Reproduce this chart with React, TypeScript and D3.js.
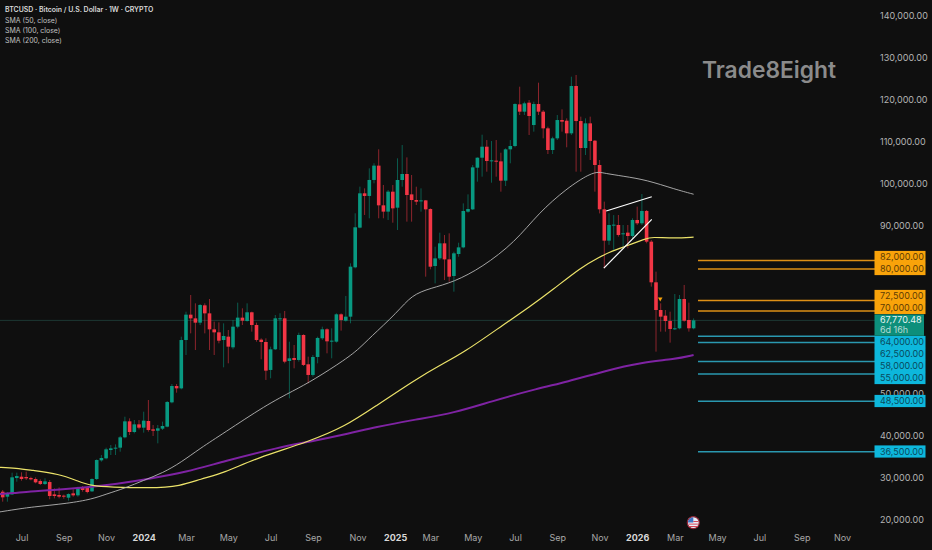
import { useEffect, useRef } from 'react';
import * as d3 from 'd3';

// Weekly BTCUSD candles, prices in thousands of USD
const opens = [26.98,25.79,26.34,30.23,30.55,30.47,30.23,30.0,29.52,28.81,29.28,26.34,26.19,26.03,25.55,26.58,26.11,28.01,27.85,27.06,30.0,34.44,34.92,36.9,37.3,37.46,39.92,43.73,41.19,43.01,42.22,43.81,41.82,41.5,41.98,42.46,48.25,52.14,51.58,63.09,69.13,68.25,67.22,71.35,69.44,65.63,64.92,63.09,63.89,61.35,66.27,68.42,67.62,69.69,66.67,63.18,62.62,55.96,60.88,68.18,68.26,58.1,58.81,58.34,64.29,57.31,54.77,59.05,63.5,65.64,62.7,62.7,69.21,67.7,68.65,80.4,89.85,98.02,97.39,101.2,104.61,95.16,93.66,98.41,94.6,101.19,102.62,97.77,96.42,96.19,96.34,94.28,80.71,82.53,86.11,82.29,78.33,83.57,85.15,93.65,94.2,104.12,106.5,109.12,105.79,105.79,105.63,101.03,108.49,109.28,119.2,117.46,119.6,114.28,119.28,117.46,113.49,108.33,111.11,115.47,115.31,112.3,123.57,115.23,108.81,114.68,110.55,104.76,94.21,86.75,90.48,90.48,88.26,88.66,87.86,91.67,90.88,93.82,86.51,76.83,70.24,68.89,67.62,65.64,65.88,72.86,67.86,65.88];
const highs = [27.38,26.9,31.51,31.51,31.59,31.74,30.55,30.39,29.92,30.16,29.76,27.77,28.01,26.27,26.58,27.54,28.17,28.33,28.33,30.16,34.68,35.71,37.46,38.09,38.25,40.23,44.84,44.44,44.05,44.05,46.03,48.81,42.85,42.85,43.65,48.57,52.62,52.62,63.89,69.84,73.81,71.82,71.67,71.82,72.86,67.46,67.3,67.06,65.48,67.86,71.99,70.64,71.83,69.85,67.23,63.5,63.5,61.51,69.05,69.45,70.0,62.7,61.91,64.84,64.45,59.13,59.53,63.89,66.27,65.88,65.88,69.45,69.45,73.58,81.35,93.26,99.61,99.21,103.97,105.17,108.5,100.01,98.82,100.0,106.35,109.52,106.58,102.38,99.6,99.2,96.42,94.44,85.31,88.65,88.09,88.49,84.12,86.26,95.63,97.77,104.76,106.58,111.98,110.71,110.47,110.71,107.69,108.73,110.71,119.44,123.41,119.84,120.24,119.84,124.36,117.86,113.89,111.5,116.66,118.01,115.87,125.79,126.19,116.27,115.87,116.27,110.71,105.95,96.04,93.26,92.84,92.86,90.48,90.48,92.07,94.85,97.86,94.05,86.91,79.37,71.83,70.24,69.84,74.05,73.81,76.2,71.99,68.24];
const lows = [24.6,24.6,26.19,29.36,29.6,29.76,29.68,28.97,28.57,28.57,25.16,25.39,25.39,25.31,24.84,25.79,25.79,26.98,26.58,26.9,29.76,34.12,34.68,35.71,35.71,36.5,39.68,40.47,40.87,41.82,41.03,41.27,40.23,38.49,41.66,42.3,48.01,50.55,51.35,59.52,64.68,60.71,66.67,64.68,60.71,59.52,62.3,56.59,57.54,60.88,65.88,66.67,67.46,65.08,62.7,58.5,53.58,53.97,60.72,60.72,57.54,49.21,56.35,57.94,56.91,52.78,54.37,57.54,63.1,59.92,58.73,62.46,65.32,67.46,67.07,80.16,89.69,92.86,92.07,100.4,92.07,92.07,91.67,91.03,89.28,99.6,91.27,91.27,95.23,93.65,78.17,79.92,76.58,82.14,77.38,76.98,74.6,82.93,84.92,93.41,94.04,100.79,101.98,103.17,100.55,101.98,98.41,99.76,105.16,108.97,116.66,116.66,111.9,112.7,116.66,111.11,107.38,107.38,110.71,112.7,108.97,111.9,103.17,103.17,107.14,105.95,98.41,93.24,80.16,85.74,84.54,87.7,85.32,84.93,87.31,90.48,90.48,86.12,75.8,60.32,65.08,65.08,62.46,65.48,65.64,67.46,65.08,65.64];
const closes = [25.63,26.58,30.4,30.71,30.0,30.16,29.92,29.2,28.81,29.44,25.95,25.95,25.79,25.79,26.42,26.11,27.85,27.38,26.9,30.0,34.52,35.0,37.06,37.3,37.46,39.92,43.73,41.19,43.01,42.22,43.89,41.66,41.5,42.06,42.62,48.33,52.14,51.58,63.09,69.13,68.25,67.22,71.43,69.44,65.63,64.92,62.93,64.05,61.51,66.27,68.42,67.7,69.69,66.67,63.1,62.62,55.8,60.88,68.26,68.26,57.94,58.73,58.34,64.29,57.15,54.77,59.05,63.58,65.64,62.78,62.94,69.21,67.86,68.65,80.56,89.93,98.02,97.39,101.2,104.61,95.16,93.66,98.42,94.44,101.19,102.62,97.62,96.42,96.03,96.34,94.2,80.55,82.53,86.11,82.29,78.17,83.73,85.15,93.81,94.28,104.2,106.5,109.12,105.71,105.87,105.63,101.03,108.49,109.28,119.28,117.46,119.44,116.43,119.28,117.46,113.49,108.33,111.11,115.47,115.08,112.3,123.57,115.23,108.81,114.68,110.47,104.76,94.21,86.75,90.48,90.56,88.1,88.5,87.86,91.67,90.88,93.82,86.51,76.83,70.24,68.65,67.62,65.72,65.88,72.86,67.7,65.88,67.77];

// Moving averages, sampled at the weeks where they could be read
const sma50Weeks = [-1,3,6,14,19,22,26,30,34,38,42,47,56,62,66,73,76,78,84,87,91,96,102,109,114,120,125,127,128,132,137,143,147];
const sma50Values = [22.1,22.8,23.3,24.2,25.2,26.4,27.8,29.7,31.4,34.0,37.3,40.9,47.6,51.1,53.5,58.5,61.2,63.5,69.7,73.8,75.4,76.9,80.4,86.4,93.3,99.2,102.8,103.1,102.8,102.1,101.2,99.0,97.8];
const sma100Weeks = [-1,3,6,12,16,19,23,31,38,42,47,54,65,73,79,88,93,98,107,112,117,123,127,129,132,137,138,143,147];
const sma100Values = [32.8,32.6,32.1,31.2,29.5,28.3,28.1,27.8,28.3,30.0,31.4,35.0,38.8,42.6,47.1,53.8,57.1,60.0,67.1,70.9,75.0,80.4,82.8,84.0,85.2,87.3,87.6,87.3,87.6];
const sma200Weeks = [-1,2,6,10,19,24,31,39,47,59,65,74,79,88,96,104,114,120,128,136,143,147];
const sma200Values = [26.4,26.6,27.1,27.3,28.1,28.8,30.0,31.6,34.2,37.6,38.8,40.9,42.3,44.2,45.7,48.5,51.6,53.1,55.7,57.8,58.5,59.5];

const resistanceLevels = [82, 80, 72.5, 70];
const resistanceLabelY = [257, 269, 296, 308];
const supportLevels = [64, 62.5, 58, 55, 48.5, 36.5];
const supportLabelY = [342, 354, 366, 378, 401, 451.5];
const lastPrice = 67.77048;

// 80k, 70k and 60k sit fully behind the price tags in the picture
const priceTicks = [140, 130, 120, 110, 100, 90, 50, 40, 30, 20];
const timeTickWeeks = [4, 13, 22, 30, 39, 48, 57, 66, 75.5, 83.5, 91, 100, 109, 118, 127, 135, 143, 152, 161, 170, 178.6];
const timeTickLabels = ['Jul', 'Sep', 'Nov', '2024', 'Mar', 'May', 'Jul', 'Sep', 'Nov', '2025', 'Mar', 'May', 'Jul', 'Sep', 'Nov', '2026', 'Mar', 'May', 'Jul', 'Sep', 'Nov'];

// Hand-drawn wedge over the Nov 2025 - Jan 2026 range: [week, price]
const wedgeTop = [[128.4, 93.8], [138.1, 97.2]];
const wedgeBottom = [[127.9, 80.2], [138.1, 91.8]];

const legendLines = ['SMA (50, close)', 'SMA (100, close)', 'SMA (200, close)'];

const GREEN = '#089981';
const RED = '#f23645';
const ORANGE = '#f9a30a';
const CYAN = '#0db7dc';
const FONT = 'Inter, sans-serif';

export default function App() {
  const svgRef = useRef<SVGSVGElement>(null);

  useEffect(() => {
    if (!svgRef.current) return;

    const width = 932;
    const height = 550;

    const svg = d3.select(svgRef.current);
    svg.selectAll('*').remove();

    const x = d3.scaleLinear().domain([0, 147]).range([2.7, 693.6]);
    const y = d3.scaleLinear().domain([20, 140]).range([521, 17]);
    const fmt = d3.format(',.2f');

    svg.append('rect').attr('width', width).attr('height', height).attr('fill', '#0f0f0f');

    // Last price line
    svg.append('line')
      .attr('x1', 0).attr('x2', 875)
      .attr('y1', y(lastPrice)).attr('y2', y(lastPrice))
      .attr('stroke', '#1c3833')
      .attr('stroke-width', 1);

    // Candles
    const candles = svg.append('g')
      .selectAll('g')
      .data(d3.range(opens.length))
      .enter()
      .append('g');

    candles.append('line')
      .attr('x1', i => x(i)).attr('x2', i => x(i))
      .attr('y1', i => y(highs[i])).attr('y2', i => y(lows[i]))
      .attr('stroke', i => (closes[i] >= opens[i] ? GREEN : RED))
      .attr('stroke-opacity', 0.55)
      .attr('stroke-width', 1);

    candles.append('rect')
      .attr('x', i => x(i) - 1.8)
      .attr('width', 3.6)
      .attr('y', i => y(Math.max(opens[i], closes[i])))
      .attr('height', i => Math.max(1, Math.abs(y(opens[i]) - y(closes[i]))))
      .attr('fill', i => (closes[i] >= opens[i] ? GREEN : RED));

    // Moving averages
    const smaLine = d3.line<number>()
      .x(d => x(d))
      .curve(d3.curveBasis);

    const drawSma = (weeks: number[], values: number[], color: string, w: number) => {
      svg.append('path')
        .attr('d', smaLine.y((_, i) => y(values[i]))(weeks))
        .attr('fill', 'none')
        .attr('stroke', color)
        .attr('stroke-width', w);
    };
    drawSma(sma200Weeks, sma200Values, '#7f23a3', 2);
    drawSma(sma100Weeks, sma100Values, '#ece36a', 1.2);
    drawSma(sma50Weeks, sma50Values, '#b5b5b5', 0.9);

    // Wedge
    [wedgeTop, wedgeBottom].forEach(seg => {
      svg.append('line')
        .attr('x1', x(seg[0][0])).attr('y1', y(seg[0][1]))
        .attr('x2', x(seg[1][0])).attr('y2', y(seg[1][1]))
        .attr('stroke', '#ffffff')
        .attr('stroke-width', 1.2);
    });

    // Small marker above the Jan 2026 candles
    svg.append('path')
      .attr('d', d3.symbol(d3.symbolTriangle, 9)())
      .attr('transform', `translate(${x(139.9)},${y(72.9)}) rotate(180)`)
      .attr('fill', ORANGE);

    // Watermark
    svg.append('text')
      .attr('x', 702).attr('y', 78)
      .attr('font-family', FONT)
      .attr('font-size', 22.8)
      .attr('font-weight', 600)
      .attr('fill', '#8b8b8b')
      .text('Trade8Eight');

    // Legend
    svg.append('text')
      .attr('x', 5).attr('y', 12)
      .attr('font-family', FONT)
      .attr('font-size', 6.95)
      .attr('font-weight', 600)
      .attr('fill', '#d8d8d8')
      .text('BTCUSD · Bitcoin / U.S. Dollar · 1W · CRYPTO');
    legendLines.forEach((t, i) => {
      svg.append('text')
        .attr('x', 5).attr('y', 22.6 + i * 10.3)
        .attr('font-family', FONT)
        .attr('font-size', 6.95)
        .attr('fill', '#c0c0c0')
        .text(t);
    });

    // Price axis
    const yAxis = svg.append('g')
      .attr('transform', 'translate(880,-1.3)')
      .call(d3.axisRight(y).tickValues(priceTicks).tickSize(0).tickPadding(0).tickFormat(d => fmt(+d * 1000)));
    yAxis.select('.domain').remove();
    yAxis.selectAll('text')
      .attr('font-family', FONT)
      .attr('font-size', 9)
      .attr('fill', '#b4b4b4');

    // Time axis
    const xAxis = svg.append('g')
      .attr('transform', 'translate(0,535)')
      .call(d3.axisBottom(x).tickValues(timeTickWeeks).tickSize(0).tickPadding(0).tickFormat((_, i) => timeTickLabels[i]));
    xAxis.select('.domain').remove();
    xAxis.selectAll('text')
      .attr('font-family', FONT)
      .attr('font-size', 9)
      .attr('font-weight', (_, i) => (/^\d/.test(timeTickLabels[i]) ? 700 : 400))
      .attr('fill', (_, i) => (/^\d/.test(timeTickLabels[i]) ? '#d8d8d8' : '#a8a8a8'));

    // Horizontal levels and their price tags
    const drawLevels = (levels: number[], labelY: number[], lineColor: string, boxColor: string, textColor: string) => {
      levels.forEach((v, i) => {
        svg.append('line')
          .attr('x1', 698).attr('x2', 875)
          .attr('y1', y(v)).attr('y2', y(v))
          .attr('stroke', lineColor)
          .attr('stroke-width', 1.5);
        svg.append('rect')
          .attr('x', 874.5).attr('y', labelY[i] - 6.1)
          .attr('width', 51).attr('height', 12.2)
          .attr('fill', boxColor);
        svg.append('text')
          .attr('x', 880).attr('y', labelY[i] + 3.2)
          .attr('font-family', FONT)
          .attr('font-size', 9)
          .attr('fill', textColor)
          .text(fmt(v * 1000));
      });
    };
    drawLevels(resistanceLevels, resistanceLabelY, '#de9016', ORANGE, '#5e3c05');
    drawLevels(supportLevels, supportLabelY, '#2a98b0', CYAN, '#0a4a5c');

    // Last price tag
    svg.append('rect')
      .attr('x', 874.5).attr('y', 314.4)
      .attr('width', 49.5).attr('height', 21.4)
      .attr('fill', '#0d8f7b');
    svg.append('text')
      .attr('x', 880).attr('y', 322.9)
      .attr('font-family', FONT).attr('font-size', 9)
      .attr('fill', '#e8f5f2')
      .text(fmt(lastPrice * 1000));
    svg.append('text')
      .attr('x', 880).attr('y', 332.5)
      .attr('font-family', FONT).attr('font-size', 9)
      .attr('fill', '#b5dcd5')
      .text('6d 16h');

    // Economic event flag
    const flag = svg.append('g').attr('transform', 'translate(693.3,522.6)');
    flag.append('circle').attr('r', 6).attr('fill', '#e9eef5').attr('stroke', '#8c2333').attr('stroke-width', 1.3);
    flag.append('path').attr('d', d3.arc()({ innerRadius: 0, outerRadius: 5.4, startAngle: -Math.PI / 2, endAngle: 0 }) as string).attr('fill', '#3f74c4');
    [-1.6, 1, 3.4].forEach(dy => {
      flag.append('rect').attr('x', dy < 0 ? 0 : -4.6).attr('y', dy).attr('width', dy < 0 ? 4.8 : 9.2).attr('height', 1).attr('fill', '#d8455a');
    });
  }, []);

  return (
    <svg
      ref={svgRef}
      width={932}
      height={550}
      style={{ position: 'absolute', left: 0, top: 0, display: 'block' }}
    />
  );
}
